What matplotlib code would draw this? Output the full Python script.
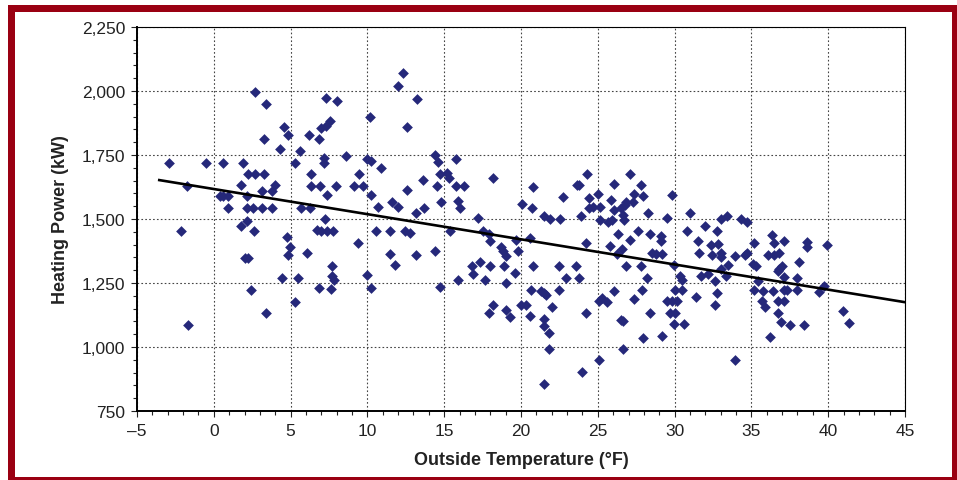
import matplotlib.pyplot as plt
from matplotlib.patches import Rectangle
from matplotlib.ticker import MultipleLocator, FuncFormatter

# outside temperature (F) and heating power (kW)
temp_f = [
    -2.9, -0.5, 0.6, 1.9, 2.7, 3.4, 4.55, 4.8, 3.3, 4.3, 5.6, 6.2, 6.85, 7.0, 7.3, 7.55,
    7.3, 5.3, 7.15, 7.2, 2.25, 2.7, 3.25, -1.75, 1.8, 4.0, 3.8, 3.15, 6.35, 6.3, 6.9, 7.4,
    0.4, 0.6, 0.95, 0.95, 2.15, 2.15, 2.55, 3.15, 3.8, 5.65, 6.25, 7.25, 2.15, 1.8,
    -2.15, -1.65, 2.6, 4.75, 4.95, 4.85, 6.1, 2.0, 2.25, 4.45, 5.45, 2.4, 6.85, 5.3, 3.4,
    6.75, 7.0, 7.35, 7.75,
    12.3, 12.0, 13.2, 8.05, 10.2, 12.6, 8.6, 9.95, 10.25, 10.9, 9.45, 14.4, 14.6, 15.8,
    14.7, 15.2, 15.3, 18.15, 13.65, 7.95, 9.15, 9.7, 12.6, 14.5, 15.8, 16.3, 10.25, 11.6,
    12.0, 10.7, 13.7, 13.15, 14.8, 15.9, 16.0, 17.2, 20.05,
    9.4, 10.55, 11.5, 12.45, 12.75, 11.5, 11.8, 13.15, 14.4, 7.7, 7.7, 7.85, 7.6, 10.0,
    10.25, 14.7, 15.35, 17.5, 17.9, 17.95, 18.7, 18.85, 19.0, 19.7, 19.8, 16.8, 16.9,
    17.3, 17.95, 18.9, 19.6, 15.9, 17.65, 19.05, 18.15, 17.9, 19.0, 19.3,
    20.7, 20.75, 21.5, 21.9, 22.55, 22.75, 23.65, 23.8, 24.3, 24.4, 24.4, 24.7, 23.9,
    25.0, 25.15, 25.15, 25.65, 25.9, 25.85, 26.05, 26.05, 26.5, 26.75, 26.85, 26.65,
    26.7, 27.1, 27.35, 27.3, 27.8, 27.95, 28.25, 29.5, 29.8, 31.0,
    20.6, 20.8, 22.45, 23.6, 22.9, 23.8, 24.2, 20.65, 21.3, 21.5, 21.6, 22.45, 20.0, 20.3,
    20.6, 22.05, 21.5, 21.5, 21.8, 21.8, 21.5, 24.2, 24.0, 25.1, 25.3, 25.6, 25.1, 26.05,
    26.3, 25.8, 26.6, 26.25, 27.1, 27.6, 26.85, 27.8, 26.5, 26.65, 26.65, 27.35, 27.85,
    28.2, 28.4, 29.1, 29.1, 28.5, 28.8, 29.15, 27.95, 28.4, 29.2, 29.5, 29.85, 30.15,
    29.7, 30.0, 29.95, 30.0, 30.45, 30.35, 30.45, 29.95, 30.6, 31.4, 31.7, 30.8, 31.5,
    31.6, 32.0,
    33.05, 33.4, 34.3, 34.7, 32.75, 32.4, 32.85, 32.45, 33.0, 33.05, 33.5, 33.95, 34.6,
    34.7, 33.05, 35.2, 36.35, 36.45, 37.1, 36.05, 36.5, 36.8, 35.1, 35.3, 37.0, 36.8,
    36.7, 38.1, 38.65, 38.65, 39.9,
    32.2, 32.65, 33.35, 32.75, 32.65, 33.9, 35.45, 35.2, 35.75, 36.4, 35.7, 35.9, 36.7,
    37.1, 36.75, 36.9, 36.2, 37.5, 38.45, 37.1, 37.3, 37.95, 37.15, 37.95, 39.4, 39.7,
    40.95, 41.35,
]
power_kw = [
    1720, 1720, 1720, 1720, 1996, 1950, 1859, 1829, 1813, 1773, 1767, 1829, 1813, 1854, 1862, 1882,
    1973, 1720, 1740, 1720, 1676, 1676, 1676, 1628, 1631, 1631, 1608, 1608, 1676, 1630, 1630, 1592,
    1591, 1591, 1591, 1543, 1588, 1543, 1543, 1543, 1543, 1543, 1543, 1499, 1494, 1474,
    1452, 1085, 1452, 1430, 1389, 1361, 1367, 1349, 1349, 1270, 1270, 1224, 1231, 1176, 1131,
    1458, 1452, 1452, 1452,
    2071, 2019, 1968, 1961, 1898, 1858, 1745, 1734, 1727, 1698, 1676, 1750, 1722, 1733,
    1675, 1679, 1660, 1659, 1653, 1630, 1630, 1627, 1613, 1630, 1630, 1630, 1592, 1566,
    1545, 1545, 1543, 1523, 1566, 1569, 1543, 1504, 1557,
    1406, 1452, 1452, 1452, 1445, 1363, 1319, 1361, 1374, 1315, 1276, 1260, 1228, 1280,
    1231, 1236, 1452, 1455, 1443, 1413, 1390, 1374, 1354, 1418, 1374, 1315, 1286,
    1332, 1315, 1315, 1288, 1263, 1260, 1250, 1166, 1131, 1145, 1117,
    1543, 1624, 1510, 1499, 1499, 1584, 1631, 1631, 1676, 1582, 1543, 1545, 1510,
    1597, 1545, 1498, 1488, 1498, 1573, 1636, 1536, 1543, 1556, 1566, 1517,
    1495, 1676, 1597, 1566, 1631, 1591, 1522, 1504, 1592, 1522,
    1426, 1315, 1315, 1315, 1270, 1270, 1406, 1224, 1218, 1211, 1202, 1224, 1166, 1166,
    1123, 1156, 1111, 1081, 1055, 994, 854, 1131, 903, 1179, 1192, 1176, 948, 1220,
    1441, 1393, 1384, 1363, 1419, 1452, 1315, 1315, 1107, 1101, 994, 1189, 1224,
    1270, 1441, 1432, 1413, 1367, 1363, 1363, 1036, 1131, 1042, 1179, 1179, 1179,
    1133, 1133, 1088, 1224, 1224, 1276, 1263, 1322, 1088, 1195, 1276, 1452, 1413,
    1367, 1471,
    1500, 1510, 1500, 1488, 1455, 1398, 1403, 1361, 1368, 1351, 1322, 1355, 1359,
    1368, 1305, 1407, 1436, 1407, 1416, 1361, 1361, 1368, 1325, 1316, 1316, 1303,
    1296, 1333, 1410, 1390, 1400,
    1285, 1259, 1276, 1211, 1166, 950, 1256, 1224, 1220, 1218, 1181, 1155, 1179,
    1181, 1133, 1098, 1040, 1086, 1086, 1224, 1224, 1222, 1272, 1269, 1215, 1237,
    1140, 1092,
]

# trend line end points
trend_x = [-3.55, 45]
trend_y = [1652, 1175]

plt.rcParams['font.family'] = ['Liberation Sans', 'DejaVu Sans']

fig = plt.figure(figsize=(9.57, 4.81), dpi=100)
ax = fig.add_axes([137 / 957, 69 / 481, 768 / 957, 384 / 481])

ax.scatter(temp_f, power_kw, marker='D', s=30, color='#25287a', linewidths=0, zorder=3)
ax.plot(trend_x, trend_y, color='black', linewidth=1.9, zorder=4)

ax.set_xlim(-5, 45)
ax.set_ylim(750, 2250)
ax.xaxis.set_major_locator(MultipleLocator(5))
ax.xaxis.set_minor_locator(MultipleLocator(1))
ax.yaxis.set_major_locator(MultipleLocator(250))
ax.yaxis.set_minor_locator(MultipleLocator(50))
ax.xaxis.set_major_formatter(FuncFormatter(lambda v, p: f"{v:.0f}".replace('-', '\u2013')))
ax.yaxis.set_major_formatter(FuncFormatter(lambda v, p: f"{v:,.0f}"))

ax.grid(True, which='major', color='#444444', linestyle=(0, (1.5, 2)), linewidth=0.8)
ax.set_axisbelow(True)

ax.tick_params(which='major', direction='out', length=4.3, width=0.8, labelsize=12.5,
               colors='#222222')
ax.tick_params(axis='y', which='major', pad=4)
ax.tick_params(axis='x', which='major', pad=4)
ax.tick_params(which='minor', direction='out', length=3, width=0.8, colors='#222222')

for side in ['left', 'bottom']:
    ax.spines[side].set_linewidth(1.4)
for side in ['top', 'right']:
    ax.spines[side].set_linewidth(0.8)

ax.set_xlabel('Outside Temperature (\u00b0F)', fontsize=13, fontweight='bold', color='#222222')
ax.set_ylabel('Heating Power (kW)', fontsize=13, fontweight='bold', color='#222222')
ax.xaxis.set_label_coords(0.5, -0.104)
ax.yaxis.set_label_coords(-0.0885, 0.5)

# dark red frame round the figure
fig.add_artist(Rectangle((10.5 / 957, 0.5 / 481), 944 / 957, 472 / 481,
                         transform=fig.transFigure, fill=False,
                         edgecolor='#9a0012', linewidth=5.04))

fig.savefig('out.png', dpi=100)
